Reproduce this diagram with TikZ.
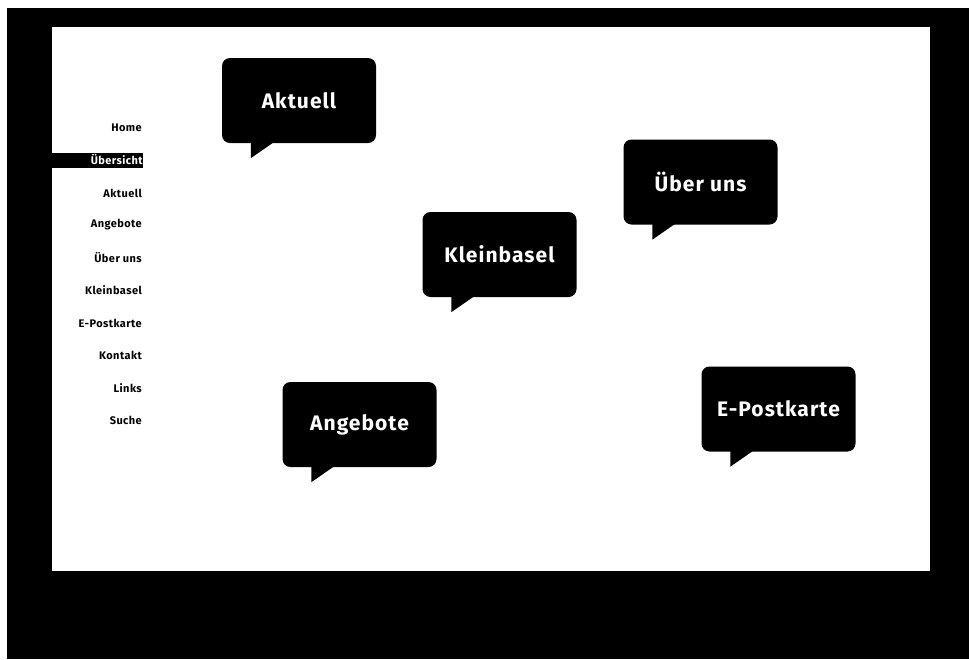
\documentclass[tikz,border=0pt]{standalone}
\usepackage{fontspec}
\setmainfont{Fira Sans}
\newfontfamily\bubblefont[LetterSpace=5]{Fira Sans}
\newfontfamily\menufont[LetterSpace=4]{Fira Sans}
\begin{document}
\begin{tikzpicture}[x=1pt,y=-1pt,
  bubble/.style={fill=black,text=white,rounded corners=8pt,minimum width=154pt,minimum height=85pt,inner sep=0pt,font=\bubblefont\fontsize{21}{24}\selectfont\bfseries},
  tail/.style={fill=black},
  menuitem/.style={anchor=east,inner sep=0pt,font=\menufont\fontsize{11}{12}\selectfont\bfseries},
  menuactive/.style={fill=black,text=white,minimum width=93pt,minimum height=15pt,inner sep=0pt,font=\menufont\fontsize{11}{12}\selectfont\bfseries,text width=92pt,align=right}]
\useasboundingbox (0,0) rectangle (969,659);
\fill[white] (0,0) rectangle (969,659);
\fill[black] (7,8) rectangle (969,659);
\fill[white] (52,27) rectangle (930,571);
% menu
\node[menuitem] (m1) at (142,128) {Home};
\node[menuactive,anchor=west] (m2) at (50,160) {Übersicht};
\node[menuitem] (m3) at (142,193) {Aktuell};
\node[menuitem] (m4) at (142,225) {Angebote};
\node[menuitem] (m5) at (142,258) {Über uns};
\node[menuitem] (m6) at (142,290) {Kleinbasel};
\node[menuitem] (m7) at (142,323) {E-Postkarte};
\node[menuitem] (m8) at (142,355) {Kontakt};
\node[menuitem] (m9) at (142,388) {Links};
\node[menuitem] (m10) at (142,420) {Suche};
% bubbles
\node[bubble] (b1) at (299,100.5) {Aktuell};
\node[bubble] (b2) at (700.5,182) {Über uns};
\node[bubble] (b3) at (499.5,254.5) {Kleinbasel};
\node[bubble] (b4) at (359.5,424.5) {Angebote};
\node[bubble] (b5) at (778.5,409) {E-Postkarte};
\foreach \b in {b1,b2,b3,b4,b5}{
  \fill[tail] ([xshift=29pt,yshift=1pt]\b.south west) -- ++(0,16) -- ++(23,-16) -- cycle;
}
\end{tikzpicture}
\end{document}
